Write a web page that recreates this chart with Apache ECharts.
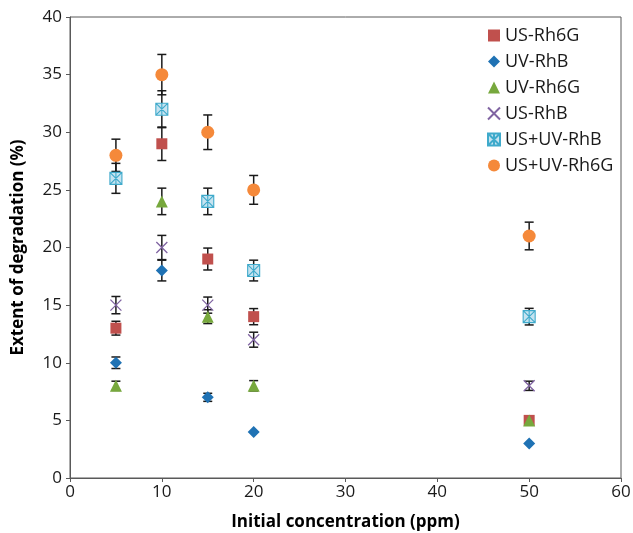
<!DOCTYPE html>
<html><head><meta charset="utf-8">
<script src="https://cdn.jsdelivr.net/npm/echarts@6/dist/echarts.min.js"></script>
<style>html,body{margin:0;padding:0;background:#fff}#c{width:633px;height:533px}</style>
</head><body><div id="c"></div>
<script>
var xValues = [5, 10, 15, 20, 50];
var seriesNames = ['US-Rh6G', 'UV-RhB', 'UV-Rh6G', 'US-RhB', 'US+UV-RhB', 'US+UV-Rh6G'];
var usRh6G = [13, 29, 19, 14, 5];
var usRh6GErr = [0.6, 1.45, 0.95, 0.7, 0];
var uvRhB = [10, 18, 7, 4, 3];
var uvRhBErr = [0.5, 0.9, 0.35, 0, 0];
var uvRh6G = [8, 24, 14, 8, 5];
var uvRh6GErr = [0.4, 1.15, 0.6, 0.45, 0];
var usRhB = [15, 20, 15, 12, 8];
var usRhBErr = [0.75, 1.05, 0.7, 0.65, 0.4];
var usuvRhB = [26, 32, 24, 18, 14];
var usuvRhBErr = [1.3, 1.6, 1.15, 0.9, 0.72];
var usuvRh6G = [28, 35, 30, 25, 21];
var usuvRh6GErr = [1.4, 1.75, 1.5, 1.25, 1.2];

var values = [usRh6G, uvRhB, uvRh6G, usRhB, usuvRhB, usuvRh6G];
var errs = [usRh6GErr, uvRhBErr, uvRh6GErr, usRhBErr, usuvRhBErr, usuvRh6GErr];

var styles = [
  {symbol: 'rect', size: 11, item: {color: '#C0504D', opacity: 1}},
  {symbol: 'diamond', size: 12, item: {color: '#1F72B4', opacity: 1}},
  {symbol: 'triangle', size: 12, item: {color: '#77A83D', opacity: 1}},
  {symbol: 'path://M0,0L10,10M10,0L0,10', size: 11, item: {color: 'rgba(0,0,0,0)', borderColor: '#8064A2', borderWidth: 1.3, opacity: 1}},
  {symbol: 'path://M0,0H10V10H0ZM0,0L10,10M10,0L0,10M5,0L5,10', size: 12, item: {color: '#C6E3F0', borderColor: '#3FAACB', borderWidth: 1.1, opacity: 1}},
  {symbol: 'circle', size: 13, item: {color: '#F5893A', opacity: 1}}
];

var font = '"Open Sans", "Noto Sans", sans-serif';
var series = [];
seriesNames.forEach(function (name, i) {
  var pts = xValues.map(function (x, j) { return [x, values[i][j], errs[i][j]]; });
  series.push({
    name: name + ' err', type: 'custom', z: 2, silent: true,
    data: pts,
    renderItem: function (params, api) {
      var e = api.value(2);
      if (!e) return null;
      var x = api.value(0), y = api.value(1);
      var top = api.coord([x, y + e]);
      var bot = api.coord([x, y - e]);
      var hw = 4.5;
      var st = {stroke: '#1a1a1a', lineWidth: 1.5};
      return {type: 'group', children: [
        {type: 'line', shape: {x1: top[0], y1: top[1], x2: bot[0], y2: bot[1]}, style: st},
        {type: 'line', shape: {x1: top[0] - hw, y1: top[1], x2: top[0] + hw, y2: top[1]}, style: st},
        {type: 'line', shape: {x1: bot[0] - hw, y1: bot[1], x2: bot[0] + hw, y2: bot[1]}, style: st}
      ]};
    }
  });
});
seriesNames.forEach(function (name, i) {
  series.push({
    name: name, type: 'scatter', z: 3 + i,
    symbol: styles[i].symbol, symbolSize: styles[i].size,
    itemStyle: styles[i].item,
    emphasis: {disabled: true},
    data: xValues.map(function (x, j) { return [x, values[i][j]]; })
  });
});

var chart = echarts.init(document.getElementById('c'));
chart.setOption({
  animation: false,
  backgroundColor: '#fff',
  grid: {left: 70, right: 12, top: 17, bottom: 55, show: true, borderColor: '#595959', borderWidth: 1, containLabel: false, outerBoundsMode: 'none'},
  legend: {
    data: seriesNames, orient: 'vertical', left: 482, top: 21,
    itemWidth: 12, itemHeight: 12, itemGap: 7,
    textStyle: {fontFamily: font, fontSize: 18, color: '#1a1a1a', lineHeight: 19}
  },
  xAxis: {
    type: 'value', min: 0, max: 60, interval: 10,
    name: 'Initial concentration (ppm)', nameLocation: 'middle', nameGap: 36,
    nameTextStyle: {fontFamily: font, fontSize: 17, fontWeight: 'bold', color: '#000'},
    axisLine: {show: true, lineStyle: {color: '#595959'}},
    axisTick: {show: true, inside: false, length: 4, lineStyle: {color: '#595959'}},
    axisLabel: {fontFamily: font, fontSize: 17, color: '#1a1a1a', margin: 6},
    splitLine: {show: false}
  },
  yAxis: {
    type: 'value', min: 0, max: 40, interval: 5,
    name: 'Extent of degradation (%)', nameLocation: 'middle', nameGap: 43,
    nameTextStyle: {fontFamily: font, fontSize: 17, fontWeight: 'bold', color: '#000'},
    axisLine: {show: true, lineStyle: {color: '#595959'}},
    axisTick: {show: true, inside: false, length: 4, lineStyle: {color: '#595959'}},
    axisLabel: {fontFamily: font, fontSize: 17, color: '#1a1a1a', margin: 8},
    splitLine: {show: false}
  },
  series: series
});
</script></body></html>
